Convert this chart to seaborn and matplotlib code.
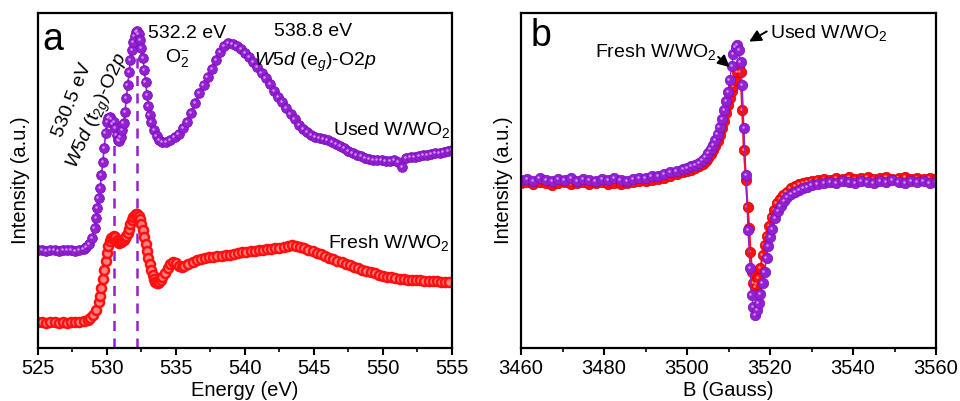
import numpy as np
import pandas as pd
import matplotlib
matplotlib.use("Agg")
import matplotlib.pyplot as plt
import matplotlib.transforms as mtransforms
import seaborn as sns

# ---------------- data (panel a: O K-edge XAS) ----------------
used_energy = [525.0, 525.3, 525.6, 525.9, 526.2, 526.5, 526.8, 527.1, 527.4, 527.7, 528.0, 528.3, 528.5,
               528.7, 528.9, 529.1, 529.2, 529.3, 529.4, 529.5, 529.6, 529.7, 529.8, 529.9, 530.0, 530.1,
               530.2, 530.3, 530.4, 530.5, 530.6, 530.7, 530.8, 530.9, 531.0, 531.1, 531.2, 531.3, 531.4,
               531.5, 531.6, 531.7, 531.8, 531.9, 532.0, 532.1, 532.2, 532.3, 532.4, 532.5, 532.6, 532.7,
               532.8, 532.9, 533.0, 533.1, 533.2, 533.4, 533.6, 533.8, 534.0, 534.3, 534.6, 534.9, 535.2,
               535.5, 535.8, 536.1, 536.4, 536.7, 537.0, 537.3, 537.6, 537.9, 538.2, 538.5, 538.8, 539.1,
               539.4, 539.7, 540.0, 540.3, 540.6, 540.9, 541.2, 541.5, 541.8, 542.1, 542.4, 542.7, 543.0,
               543.3, 543.6, 543.9, 544.2, 544.5, 544.8, 545.1, 545.4, 545.7, 546.0, 546.3, 546.6, 546.9,
               547.2, 547.5, 547.8, 548.1, 548.4, 548.7, 549.0, 549.3, 549.6, 549.9, 550.2, 550.5, 550.8,
               551.1, 551.4, 551.7, 552.0, 552.3, 552.6, 552.9, 553.2, 553.5, 553.8, 554.1, 554.4, 554.7,
               555.0]
used_int = [151, 151, 150, 151, 151, 150, 151, 151, 151, 150, 151, 152, 154,
            157, 163, 173, 183, 193, 203, 213, 226, 239, 253, 268, 279, 283,
            284, 282, 277, 279, 273, 266, 261, 260, 264, 271, 278, 289, 303,
            316, 329, 341, 351, 359, 365, 369, 370, 367, 361, 353, 343, 331,
            319, 306, 295, 286, 279, 271, 265, 261, 259, 259, 261, 264, 267,
            273, 279, 288, 298, 308, 316, 324, 332, 341, 349, 355, 358, 357,
            355, 352, 348, 344, 339, 334, 328, 323, 317, 310, 304, 299, 293,
            287, 282, 276, 272, 269, 266, 264, 263, 262, 261, 259, 257, 255,
            253, 250, 248, 246, 245, 243, 242, 241, 241, 241, 240, 240, 241,
            239, 234, 243, 244, 244, 245, 246, 246, 247, 248, 248, 249, 250,
            251]

fresh_energy = [525.0, 525.3, 525.6, 525.9, 526.2, 526.5, 526.8, 527.1, 527.4, 527.7, 528.0, 528.3, 528.6,
                528.8, 529.0, 529.2, 529.4, 529.5, 529.6, 529.7, 529.8, 529.9, 530.0, 530.1, 530.2, 530.3,
                530.4, 530.5, 530.6, 530.7, 530.8, 530.9, 531.0, 531.1, 531.2, 531.3, 531.4, 531.5, 531.6,
                531.7, 531.8, 531.9, 532.0, 532.1, 532.2, 532.3, 532.4, 532.5, 532.6, 532.7, 532.8, 532.9,
                533.0, 533.1, 533.2, 533.3, 533.4, 533.5, 533.6, 533.7, 533.8, 533.9, 534.0, 534.2, 534.4,
                534.6, 534.8, 535.0, 535.2, 535.4, 535.6, 535.9, 536.2, 536.5, 536.8, 537.1, 537.4, 537.7,
                538.0, 538.3, 538.6, 538.9, 539.2, 539.5, 539.8, 540.1, 540.4, 540.7, 541.0, 541.3, 541.6,
                541.9, 542.2, 542.5, 542.8, 543.1, 543.4, 543.7, 544.0, 544.3, 544.6, 544.9, 545.2, 545.5,
                545.8, 546.1, 546.4, 546.7, 547.0, 547.3, 547.6, 547.9, 548.2, 548.5, 548.8, 549.1, 549.4,
                549.7, 550.0, 550.3, 550.6, 550.9, 551.2, 551.5, 551.8, 552.1, 552.4, 552.7, 553.0, 553.3,
                553.6, 553.9, 554.2, 554.5, 554.8]
fresh_int = [79, 79, 78, 79, 79, 78, 79, 78, 79, 79, 79, 80, 81,
             83, 86, 91, 99, 105, 113, 122, 131, 140, 148, 155, 160, 163,
             164, 165, 164, 161, 159, 158, 159, 160, 161, 163, 165, 168, 172,
             177, 181, 184, 186, 187, 187, 185, 182, 177, 171, 164, 157, 150,
             143, 137, 131, 126, 122, 119, 118, 118, 119, 121, 124, 128, 133,
             137, 139, 138, 135, 134, 135, 137, 139, 141, 142, 143, 144, 144,
             145, 145, 146, 146, 147, 148, 149, 149, 150, 150, 151, 151, 152,
             152, 153, 153, 154, 155, 156, 155, 154, 153, 151, 150, 148, 147,
             145, 143, 142, 140, 139, 137, 136, 134, 133, 131, 130, 129, 128,
             126, 125, 124, 124, 123, 122, 122, 121, 121, 121, 121, 120, 120,
             120, 120, 119, 119, 119]

peak_energies = [530.5, 532.2]

# ---------------- data (panel b: EPR) ----------------
used_B = [3460, 3461.5, 3463, 3464.5, 3466, 3467.5, 3469, 3470.5, 3472, 3473.5, 3475, 3476.5, 3478, 3479.5,
          3481, 3482.5, 3484, 3485.5, 3487, 3488.5, 3490, 3491.5, 3493, 3494.5, 3496, 3497.5, 3499, 3500,
          3501, 3502, 3503, 3503.8, 3504.5, 3505.1, 3505.7, 3506.3, 3506.8, 3507.4, 3507.9, 3508.4, 3508.9,
          3509.4, 3509.9, 3510.3, 3510.8, 3511.2, 3511.7, 3512.1, 3512.5, 3512.9, 3513.3, 3513.7, 3514.2,
          3514.7, 3515.2, 3515.6, 3516.0, 3516.5, 3516.9, 3517.3, 3517.7, 3518.2, 3518.7, 3519.2, 3519.6,
          3520.1, 3520.6, 3521.2, 3521.9, 3522.6, 3523.4, 3524.2, 3525.1, 3526.0, 3527, 3528, 3529, 3530,
          3531.5, 3533, 3534.5, 3536, 3537.5, 3539, 3540.5, 3542, 3543.5, 3545, 3546.5, 3548, 3549.5, 3551,
          3552.5, 3554, 3555.5, 3557, 3558.5, 3560]
used_epr = [221, 222, 220, 223, 221, 220, 222, 221, 223, 220, 222, 221, 220, 222,
            221, 223, 221, 220, 222, 223, 223, 225, 225, 227, 229, 230, 232, 233,
            235, 236, 238, 241, 244, 248, 252, 256, 261, 267, 274, 282, 291,
            300, 309, 321, 335, 347, 354, 356, 351, 339, 316, 273, 226,
            171, 133, 106, 94, 86, 91, 98, 107, 118, 129, 143, 155,
            164, 172, 183, 190, 195, 200, 204, 207, 209, 211, 213, 214, 216,
            217, 218, 219, 218, 220, 219, 218, 220, 219, 218, 220, 219, 221, 219,
            218, 220, 219, 220, 218, 219]

fresh_B = [3460, 3461.5, 3463, 3464.5, 3466, 3467.5, 3469, 3470.5, 3472, 3473.5, 3475, 3476.5, 3478, 3479.5,
           3481, 3482.5, 3484, 3485.5, 3487, 3488.5, 3490, 3491.5, 3493, 3494.5, 3496, 3497.5, 3499, 3500,
           3501, 3502, 3503, 3503.8, 3504.5, 3505.1, 3505.7, 3506.3, 3506.8, 3507.4, 3507.9, 3508.4, 3508.9,
           3509.4, 3509.9, 3510.3, 3510.8, 3511.2, 3511.7, 3512.1, 3512.5, 3512.9, 3513.3, 3513.7, 3514.2,
           3514.6, 3515.0, 3515.3, 3515.7, 3516.0, 3516.4, 3516.8, 3517.2, 3517.7, 3518.2, 3518.7, 3519.2,
           3519.8, 3520.4, 3521.0, 3521.6, 3522.4, 3523.2, 3524.0, 3525.0, 3526, 3527, 3528, 3529, 3530,
           3531.5, 3533, 3534.5, 3536, 3537.5, 3539, 3540.5, 3542, 3543.5, 3545, 3546.5, 3548, 3549.5, 3551,
           3552.5, 3554, 3555.5, 3557, 3558.5, 3560]
fresh_epr = [218, 219, 217, 219, 218, 216, 218, 219, 217, 218, 219, 217, 218, 219,
             217, 218, 217, 218, 219, 220, 220, 221, 222, 223, 225, 227, 229, 230,
             231, 233, 235, 237, 240, 243, 247, 251, 255, 260, 266, 273, 280,
             288, 296, 303, 310, 315, 321, 329, 335, 329, 291, 251, 221,
             194, 173, 149, 129, 118, 114, 117, 123, 133, 146, 156, 165,
             175, 184, 191, 198, 202, 206, 209, 213, 215, 217, 218, 219, 220,
             221, 222, 221, 223, 222, 224, 222, 223, 224, 222, 223, 224, 222, 223,
             224, 222, 223, 222, 223, 222]

# ---------------- style ----------------
sns.set_style("ticks")
plt.rcParams['font.family'] = ['Liberation Sans', 'DejaVu Sans']
plt.rcParams['mathtext.fontset'] = 'custom'
plt.rcParams['mathtext.rm'] = 'Liberation Sans'
plt.rcParams['mathtext.it'] = 'Liberation Sans:italic'
plt.rcParams['mathtext.bf'] = 'Liberation Sans:bold'
plt.rcParams['text.color'] = 'black'
plt.rcParams['axes.labelcolor'] = 'black'
plt.rcParams['xtick.color'] = 'black'
plt.rcParams['ytick.color'] = 'black'

PURPLE = "#9420d4"
PURPLE_DK = "#7a10b5"
PURPLE_HI = "#d9a6f5"
RED = "#ff1010"
RED_HI = "#ffa0a0"
FS = 14.5
FS_T = 14

fig = plt.figure(figsize=(9.6, 4.01), dpi=100)
ax1 = fig.add_axes([38/960, 53/401, 414/960, 335/401])
ax2 = fig.add_axes([521/960, 53/401, 415/960, 335/401])


def highlight(ax, x, y, color, ms):
    tr = mtransforms.offset_copy(ax.transData, fig=fig, x=-1.3, y=1.3, units='dots')
    ax.plot(x, y, linestyle="none", marker="o", ms=ms, color=color, mec="none", transform=tr,
            zorder=3, alpha=0.9)


# ---- panel a ----
df_used = pd.DataFrame({"E": used_energy, "I": used_int})
df_fresh = pd.DataFrame({"E": fresh_energy, "I": fresh_int})
sns.lineplot(data=df_used, x="E", y="I", ax=ax1, color=PURPLE, lw=1.2, marker="o", markersize=7,
             markerfacecolor=PURPLE, markeredgecolor=PURPLE_DK, markeredgewidth=0.6, sort=False,
             estimator=None, zorder=2)
highlight(ax1, used_energy, used_int, PURPLE_HI, 1.8)
sns.lineplot(data=df_fresh, x="E", y="I", ax=ax1, color=RED, lw=1.2, marker="o", markersize=6.5,
             markerfacecolor="#ff8080", markeredgecolor=RED, markeredgewidth=1.8, sort=False,
             estimator=None)

ax1.set_xlim(525, 555)
ax1.set_ylim(53, 388)
for pe in peak_energies:
    top = np.interp(pe, used_energy, used_int)
    ax1.vlines(pe, 53, top, colors=PURPLE, linestyles=(0, (4, 3)), lw=1.8, zorder=1)

ax1.set_xticks([525, 530, 535, 540, 545, 550, 555])
ax1.set_xticks([527.5, 532.5, 537.5, 542.5, 547.5, 552.5], minor=True)
ax1.set_yticks([])
ax1.set_xlabel("Energy (eV)", fontsize=FS, labelpad=2)
ax1.set_ylabel("Intensity (a.u.)", fontsize=FS, labelpad=6)

ax1.text(526.1, 361, "a", fontsize=27, ha="center", va="center")
ax1.text(533.0, 367, "532.2 eV", fontsize=FS_T, ha="left", va="center")
ax1.text(534.2, 343, "O$_2^{-}$", fontsize=FS_T, ha="left", va="center")
ax1.text(544.9, 369, "538.8 eV", fontsize=FS_T, ha="center", va="center")
ax1.text(545.1, 339, r"$\mathit{W5d}$ (e$_g$)-O$\mathit{2p}$", fontsize=FS_T, ha="center", va="center")
ax1.text(527.5, 301, "530.5 eV", fontsize=FS_T, ha="center", va="center", rotation=68,
         rotation_mode="anchor")
ax1.text(529.4, 290, r"$\mathit{W5d}$ (t$_{2g}$)-O$\mathit{2p}$", fontsize=FS_T, ha="center",
         va="center", rotation=66, rotation_mode="anchor")
ax1.text(546.4, 266, "Used W/WO$_2$", fontsize=FS_T, ha="left", va="baseline")
ax1.text(546.0, 153, "Fresh W/WO$_2$", fontsize=FS_T, ha="left", va="baseline")

# ---- panel b ----
df_bu = pd.DataFrame({"B": used_B, "I": used_epr})
df_bf = pd.DataFrame({"B": fresh_B, "I": fresh_epr})
sns.lineplot(data=df_bf, x="B", y="I", ax=ax2, color=RED, lw=1.5, marker="o", markersize=7.5,
             markerfacecolor=RED, markeredgecolor="#d00000", markeredgewidth=0.5, sort=False,
             estimator=None, zorder=2)
highlight(ax2, fresh_B, fresh_epr, RED_HI, 1.8)
sns.lineplot(data=df_bu, x="B", y="I", ax=ax2, color=PURPLE, lw=1.0, marker="o", markersize=7.5,
             markerfacecolor=PURPLE, markeredgecolor=PURPLE_DK, markeredgewidth=0.5, sort=False,
             estimator=None, zorder=4)
highlight(ax2, used_B, used_epr, PURPLE_HI, 1.8)
ax2.lines[-1].set_zorder(5)
ax2.set_xlim(3460, 3560)
ax2.set_ylim(53, 388)
ax2.set_xticks([3460, 3480, 3500, 3520, 3540, 3560])
ax2.set_xticks([3470, 3490, 3510, 3530, 3550], minor=True)
ax2.set_yticks([])
ax2.set_xlabel("B (Gauss)", fontsize=FS, labelpad=2)
ax2.set_ylabel("Intensity (a.u.)", fontsize=FS, labelpad=6)

ax2.text(3464.8, 365, "b", fontsize=27, ha="center", va="center")
ax2.text(3477.8, 344, "Fresh W/WO$_2$", fontsize=FS_T, ha="left", va="baseline")
ax2.text(3520.0, 363, "Used W/WO$_2$", fontsize=FS_T, ha="left", va="baseline")
ax2.annotate("", xy=(3510.8, 332), xytext=(3507.0, 346),
             arrowprops=dict(arrowstyle="-|>,head_length=0.7,head_width=0.35", color="black", lw=1.4),
             zorder=6)
ax2.annotate("", xy=(3514.4, 358), xytext=(3519.8, 371),
             arrowprops=dict(arrowstyle="-|>,head_length=0.7,head_width=0.35", color="black", lw=1.4),
             zorder=6)

for ax in (ax1, ax2):
    for sp in ax.spines.values():
        sp.set_visible(True)
        sp.set_linewidth(1.6)
        sp.set_color("black")
        sp.set_zorder(10)
    ax.tick_params(axis="x", which="major", direction="out", length=5, width=1.5, labelsize=FS,
                   pad=3, top=False)
    ax.tick_params(axis="x", which="minor", direction="out", length=3, width=1.2, top=False)

fig.savefig("out.png", dpi=100, facecolor="white")
